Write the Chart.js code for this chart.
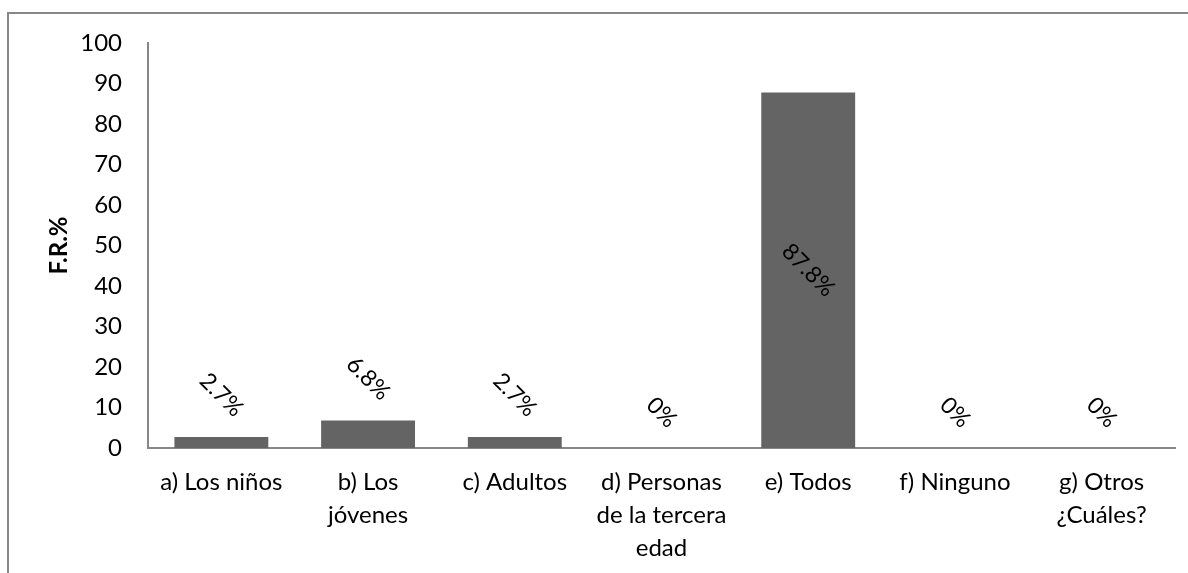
<!DOCTYPE html>
<html><head><meta charset="utf-8">
<script src="https://cdn.jsdelivr.net/npm/chart.js@4/dist/chart.umd.min.js"></script>
<style>html,body{margin:0;padding:0;background:#fff}#wrap{width:1188px;height:573px;position:relative}</style>
</head><body><div id="wrap"><canvas id="c" width="1188" height="573"></canvas></div>
<script>
const categories = [["a) Los niños"], ["b) Los", "jóvenes"], ["c) Adultos"], ["d) Personas", "de la tercera", "edad"], ["e) Todos"], ["f) Ninguno"], ["g) Otros", "¿Cuáles?"]];
const values = [2.7, 6.8, 2.7, 0, 87.8, 0, 0];
const valueLabels = ["2.7%", "6.8%", "2.7%", "0%", "87.8%", "0%", "0%"];
const yMin = 0, yMax = 100, yStep = 10;
const yTitle = "F.R.%";

const FONT = "Lato, 'Open Sans', sans-serif";

const frame = {
  id: 'frame',
  beforeDraw(chart) {
    const ctx = chart.ctx;
    ctx.save();
    ctx.fillStyle = '#fff';
    ctx.fillRect(0, 0, chart.width, chart.height);
    ctx.strokeStyle = '#878787';
    ctx.lineWidth = 2;
    ctx.beginPath();
    ctx.moveTo(8, chart.height + 5);
    ctx.lineTo(8, 13);
    ctx.lineTo(chart.width + 5, 13);
    ctx.stroke();
    ctx.restore();
  }
};

const barLabels = {
  id: 'barLabels',
  afterDatasetsDraw(chart) {
    const ctx = chart.ctx;
    const meta = chart.getDatasetMeta(0);
    ctx.save();
    ctx.font = "23px " + FONT;
    ctx.fillStyle = '#000';
    ctx.textAlign = 'center';
    ctx.textBaseline = 'middle';
    const s = Math.SQRT1_2;
    meta.data.forEach((bar, i) => {
      const txt = valueLabels[i];
      const m = ctx.measureText(txt);
      const w = m.width;
      const desc = m.actualBoundingBoxDescent;
      let cx = bar.x, cy;
      if (values[i] > 50) {
        cy = (bar.y + bar.base) / 2;
      } else {
        cy = bar.y - 19 - s * (w / 2 + desc);
      }
      ctx.save();
      ctx.translate(cx, cy);
      ctx.rotate(Math.PI / 4);
      ctx.fillText(txt, 0, 0);
      ctx.restore();
    });
    ctx.restore();
  }
};

new Chart(document.getElementById('c'), {
  type: 'bar',
  data: {
    labels: categories,
    datasets: [{
      data: values,
      backgroundColor: '#646464',
      borderWidth: 0,
      barPercentage: 0.8,
      categoryPercentage: 0.8
    }]
  },
  options: {
    responsive: false,
    animation: false,
    devicePixelRatio: 1,
    layout: { padding: { top: 43, right: 13, bottom: 0, left: 0 } },
    plugins: { legend: { display: false }, tooltip: { enabled: false } },
    scales: {
      x: {
        grid: { display: false, drawTicks: false },
        border: { display: true, color: '#878787', width: 2 },
        ticks: { color: '#000', font: { family: FONT, size: 24, lineHeight: 1.375 }, padding: 18, maxRotation: 0, autoSkip: false },
        afterFit(scale) { scale.height = 125; }
      },
      y: {
        min: yMin, max: yMax,
        grid: { display: false, drawTicks: false },
        border: { display: true, color: '#878787', width: 2 },
        ticks: { stepSize: yStep, color: '#000', font: { family: FONT, size: 24 }, padding: 26 },
        title: { display: true, text: yTitle, color: '#000', font: { family: FONT, size: 24, weight: 'bold' }, padding: { top: 45, bottom: 0 } },
        afterFit(scale) { scale.width = 148; }
      }
    }
  },
  plugins: [frame, barLabels]
});
</script>
</body></html>
